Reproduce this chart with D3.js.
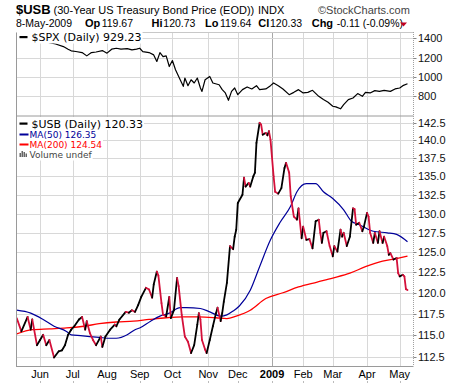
<!DOCTYPE html>
<html><head><meta charset="utf-8">
<script src="https://cdn.jsdelivr.net/npm/d3@7"></script>
<style>body{margin:0;background:#fff}svg{display:block}</style>
</head><body><svg id="c" width="460" height="383"></svg>
<script>
// ---------- DATA ----------
const holidays = ["2008-05-26","2008-07-04","2008-09-01","2008-11-27","2008-12-25","2009-01-01","2009-01-19","2009-02-16","2009-04-10"];
const firstDay = "2008-05-09", lastDay = "2009-05-08";

const usbDates = ["2008-05-09","2008-05-14","2008-05-20","2008-05-22","2008-05-23","2008-05-29","2008-06-02","2008-06-04","2008-06-06","2008-06-10","2008-06-13","2008-06-18","2008-06-20","2008-06-24","2008-06-26","2008-06-30","2008-07-02","2008-07-08","2008-07-10","2008-07-14","2008-07-15","2008-07-17","2008-07-21","2008-07-23","2008-07-28","2008-07-29","2008-07-31","2008-08-05","2008-08-08","2008-08-11","2008-08-13","2008-08-19","2008-08-21","2008-08-25","2008-08-27","2008-08-29","2008-09-03","2008-09-08","2008-09-10","2008-09-12","2008-09-15","2008-09-17","2008-09-18","2008-09-22","2008-09-23","2008-09-25","2008-09-29","2008-09-30","2008-10-02","2008-10-06","2008-10-07","2008-10-09","2008-10-13","2008-10-15","2008-10-17","2008-10-21","2008-10-23","2008-10-24","2008-10-27","2008-10-28","2008-10-30","2008-10-31","2008-11-04","2008-11-06","2008-11-10","2008-11-11","2008-11-13","2008-11-14","2008-11-17","2008-11-19","2008-11-21","2008-11-25","2008-11-26","2008-11-28","2008-12-01","2008-12-04","2008-12-05","2008-12-08","2008-12-10","2008-12-11","2008-12-15","2008-12-16","2008-12-17","2008-12-19","2008-12-22","2008-12-23","2008-12-26","2008-12-29","2008-12-30","2008-12-31","2009-01-05","2009-01-06","2009-01-08","2009-01-12","2009-01-14","2009-01-15","2009-01-20","2009-01-21","2009-01-23","2009-01-27","2009-01-28","2009-01-30","2009-02-02","2009-02-04","2009-02-06","2009-02-10","2009-02-12","2009-02-17","2009-02-18","2009-02-19","2009-02-20","2009-02-24","2009-02-26","2009-03-02","2009-03-03","2009-03-05","2009-03-09","2009-03-10","2009-03-11","2009-03-13","2009-03-17","2009-03-19","2009-03-20","2009-03-23","2009-03-25","2009-03-27","2009-03-30","2009-04-01","2009-04-02","2009-04-03","2009-04-07","2009-04-08","2009-04-13","2009-04-14","2009-04-16","2009-04-17","2009-04-21","2009-04-22","2009-04-23","2009-04-27","2009-04-29","2009-04-30","2009-05-01","2009-05-05","2009-05-06","2009-05-07","2009-05-08"];
const usbClose = [116.96,115.4,117.1,115.6,116.8,113.8,114.4,115.0,113.8,114.4,112.4,113.1,113.2,113.8,115.0,115.6,116.0,116.8,117.1,115.6,116.6,115.2,114.4,113.8,114.8,113.6,114.8,115.6,116.2,116.0,116.8,117.7,117.6,117.9,117.7,118.5,119.5,120.6,120.4,119.4,121.0,122.6,122.1,118.75,117.35,117.15,119.5,116.96,117.9,121.8,120.8,117.35,114.8,114.2,112.9,113.8,116.2,117.55,116.8,114.4,113.3,112.9,114.4,116.0,117.55,118.2,116.6,117.55,118.9,121.2,125.8,125.4,127.0,127.9,131.4,132.5,134.8,133.6,134.1,133.6,135.0,135.5,139.65,142.5,142.25,140.8,141.06,140.7,141.3,140.1,135.0,132.9,132.65,133.4,136.15,136.85,135.5,132.3,129.6,129.2,130.7,126.8,128.3,126.6,126.7,125.5,129.0,129.2,127.5,126.2,127.5,127.7,125.8,124.5,125.8,125.1,127.9,127.0,127.5,125.8,127.0,130.7,130.6,128.55,128.8,127.7,128.3,130.1,129.6,127.5,126.2,127.5,126.2,127.7,126.2,127.0,125.8,124.7,124.9,124.1,124.3,122.4,122.0,122.2,122.0,120.44,120.33];

const ma50Dates = ["2008-05-09","2008-05-22","2008-06-04","2008-06-13","2008-06-25","2008-06-30","2008-07-09","2008-07-17","2008-07-25","2008-08-05","2008-08-11","2008-08-20","2008-08-27","2008-09-02","2008-09-11","2008-09-19","2008-09-29","2008-10-08","2008-10-14","2008-10-27","2008-11-04","2008-11-13","2008-11-19","2008-11-25","2008-12-02","2008-12-11","2008-12-19","2008-12-31","2009-01-09","2009-01-21","2009-01-27","2009-02-04","2009-02-12","2009-02-20","2009-03-02","2009-03-11","2009-03-18","2009-03-25","2009-04-07","2009-04-21","2009-04-29","2009-05-08"];
const ma50Values = [117.9,117.55,116.8,116.0,115.4,115.0,114.9,114.8,114.7,114.6,114.6,115.0,115.6,115.8,116.6,117.2,117.55,118.2,118.2,118.1,117.7,117.2,117.35,117.8,118.4,120.3,123.2,126.6,128.8,131.0,132.9,134.0,134.0,132.9,132.0,130.5,129.0,128.55,127.7,127.5,127.3,126.35];

const ma200Dates = ["2008-05-09","2008-05-23","2008-06-10","2008-06-25","2008-07-11","2008-07-25","2008-08-11","2008-08-26","2008-09-10","2008-09-25","2008-10-10","2008-10-24","2008-11-10","2008-11-19","2008-11-28","2008-12-11","2008-12-26","2009-01-13","2009-01-28","2009-02-13","2009-03-02","2009-03-17","2009-03-31","2009-04-16","2009-05-01","2009-05-08"];
const ma200Values = [115.1,115.6,115.7,115.8,116.0,116.3,116.5,116.6,116.8,117.0,117.1,117.1,117.0,116.9,117.2,117.9,119.3,120.0,120.7,121.3,121.8,122.4,123.2,123.9,124.3,124.54];

const spxDates = ["2008-05-09","2008-05-19","2008-05-30","2008-06-04","2008-06-06","2008-06-10","2008-06-16","2008-06-23","2008-06-26","2008-06-30","2008-07-03","2008-07-10","2008-07-15","2008-07-18","2008-07-23","2008-07-29","2008-08-01","2008-08-06","2008-08-11","2008-08-14","2008-08-20","2008-08-25","2008-08-28","2008-09-02","2008-09-04","2008-09-10","2008-09-15","2008-09-17","2008-09-19","2008-09-23","2008-09-25","2008-09-29","2008-10-01","2008-10-03","2008-10-08","2008-10-10","2008-10-13","2008-10-15","2008-10-17","2008-10-21","2008-10-23","2008-10-27","2008-10-28","2008-10-30","2008-11-04","2008-11-06","2008-11-12","2008-11-14","2008-11-18","2008-11-20","2008-11-24","2008-11-26","2008-12-01","2008-12-04","2008-12-09","2008-12-12","2008-12-17","2008-12-19","2008-12-26","2008-12-31","2009-01-05","2009-01-08","2009-01-13","2009-01-20","2009-01-23","2009-01-28","2009-02-02","2009-02-05","2009-02-10","2009-02-17","2009-02-20","2009-02-25","2009-03-02","2009-03-04","2009-03-09","2009-03-11","2009-03-16","2009-03-19","2009-03-24","2009-03-27","2009-03-31","2009-04-03","2009-04-08","2009-04-14","2009-04-17","2009-04-23","2009-04-28","2009-05-01","2009-05-05","2009-05-08"];
const spxClose = [1388,1426,1400,1378,1362,1355,1341,1314,1287,1270,1263,1252,1218,1252,1258,1273,1246,1287,1297,1288,1293,1280,1287,1297,1262,1252,1228,1160,1252,1211,1218,1108,1170,1074,971,903,989,910,971,938,989,886,851,971,1005,938,920,869,835,759,851,886,817,869,897,876,910,869,876,910,938,910,876,817,841,869,835,841,862,800,766,738,697,691,671,715,766,783,828,800,841,835,859,851,862,851,876,886,910,929.23];

const usbTicks = [112.5,115.0,117.5,120.0,122.5,125.0,127.5,130.0,132.5,135.0,137.5,140.0,142.5];
const spxTicks = [800,1000,1200,1400];

const headerTitle = "$USB", headerDesc = "(30-Year US Treasury Bond Price (EOD))", headerExch = "INDX";
const quoteDate = "8-May-2009";
const quoteLabels = ["Op","Hi","Lo","Cl","Chg"];
const quoteValues = ["119.67","120.73","119.64","120.33","-0.11 (-0.09%)"];

// ---------- LAYOUT ----------
const L = 16, R = 413.5, T1 = 32, B1 = 115.5, B2 = 366;
const svg = d3.select("#c");
const parse = d3.timeParse("%Y-%m-%d"), fmt = d3.timeFormat("%Y-%m-%d");
const days = d3.timeDay.range(parse(firstDay), d3.timeDay.offset(parse(lastDay), 1))
  .filter(d => d.getDay() !== 0 && d.getDay() !== 6 && !holidays.includes(fmt(d))).map(fmt);
const x = d3.scalePoint().domain(days).range([16.7, 407.5]);

const yUsb = d3.scaleLog().domain([111.43, 143.56]).range([B2, B1]);
const ySpx = d3.scaleLinear().domain([601.7, 1464.7]).range([B1, T1]);

const monthTicks = days.filter((d, i) => i > 0 && d.slice(5, 7) !== days[i - 1].slice(5, 7));

const grid = "#d8d8d8";
svg.append("rect").attr("width", 460).attr("height", 383).attr("fill", "#fff");

svg.append("g").selectAll("line").data(monthTicks).join("line")
  .attr("x1", d => Math.round(x(d)) + 0.5).attr("x2", d => Math.round(x(d)) + 0.5)
  .attr("y1", T1).attr("y2", B2)
  .attr("stroke", d => d.slice(5, 7) === "01" ? "#a8a8a8" : grid).attr("stroke-width", 1);

svg.append("g").selectAll("line").data(spxTicks).join("line")
  .attr("x1", L).attr("x2", R).attr("y1", d => Math.round(ySpx(d)) + 0.5).attr("y2", d => Math.round(ySpx(d)) + 0.5)
  .attr("stroke", grid);
svg.append("g").selectAll("line").data(usbTicks).join("line")
  .attr("x1", L).attr("x2", R).attr("y1", d => Math.round(yUsb(d)) + 0.5).attr("y2", d => Math.round(yUsb(d)) + 0.5)
  .attr("stroke", grid);

const defs = svg.append("defs");
defs.append("clipPath").attr("id", "cp1").append("rect").attr("x", L).attr("y", T1).attr("width", R - L).attr("height", B1 - T1);
defs.append("clipPath").attr("id", "cp2").append("rect").attr("x", L).attr("y", B1).attr("width", R - L).attr("height", B2 - B1);

const spx = spxDates.map((d, i) => ({ d, v: spxClose[i] }));
svg.append("path").attr("clip-path", "url(#cp1)")
  .attr("d", d3.line().x(p => x(p.d)).y(p => ySpx(p.v))(spx))
  .attr("fill", "none").attr("stroke", "#000").attr("stroke-width", 1.2).attr("stroke-linejoin", "round");

const g2 = svg.append("g").attr("clip-path", "url(#cp2)");
const ma200 = ma200Dates.map((d, i) => ({ d, v: ma200Values[i] }));
const ma50 = ma50Dates.map((d, i) => ({ d, v: ma50Values[i] }));
const lineU = d3.line().x(p => x(p.d)).y(p => yUsb(p.v)).curve(d3.curveMonotoneX);
g2.append("path").attr("d", lineU(ma200)).attr("fill", "none").attr("stroke", "#ff0000").attr("stroke-width", 1.3);
g2.append("path").attr("d", lineU(ma50)).attr("fill", "none").attr("stroke", "#000099").attr("stroke-width", 1.2);

const usb = usbDates.map((d, i) => ({ d, v: usbClose[i] }));
const segs = usb.slice(1).map((p, i) => ({ a: usb[i], b: p, up: p.v >= usb[i].v }));
g2.selectAll("line.seg").data(segs).join("line").attr("class", "seg")
  .attr("x1", s => x(s.a.d)).attr("y1", s => yUsb(s.a.v)).attr("x2", s => x(s.b.d)).attr("y2", s => yUsb(s.b.v))
  .attr("stroke", s => s.up ? "#000" : "#d4103a").attr("stroke-width", 1.8).attr("stroke-linecap", "round");

const border = "#9a9a9a";
svg.append("line").attr("x1", L + 0.5).attr("x2", L + 0.5).attr("y1", T1).attr("y2", B2 + 0.5).attr("stroke", border);
svg.append("line").attr("x1", L).attr("x2", R).attr("y1", T1 + 0.5).attr("y2", T1 + 0.5).attr("stroke", "#c8c8c8");
svg.append("line").attr("x1", L).attr("x2", R).attr("y1", B1 + 0.5).attr("y2", B1 + 0.5).attr("stroke", border);
svg.append("line").attr("x1", L).attr("x2", R).attr("y1", B2 + 0.5).attr("y2", B2 + 0.5).attr("stroke", border);
svg.append("line").attr("x1", R).attr("x2", R).attr("y1", T1).attr("y2", B2)
  .attr("stroke", "#a0a0a0").attr("stroke-dasharray", "1,1");

const axFont = "'Liberation Sans', Arial, sans-serif";
function rightAxis(scale, ticks, f) {
  const g = svg.append("g");
  g.selectAll("line").data(ticks).join("line")
    .attr("x1", R).attr("x2", R + 3).attr("y1", d => Math.round(scale(d)) + 0.5).attr("y2", d => Math.round(scale(d)) + 0.5)
    .attr("stroke", "#888");
  g.selectAll("text").data(ticks).join("text")
    .attr("x", R + 4.5).attr("y", d => scale(d) + 4).text(f)
    .attr("font-family", axFont).attr("font-size", 11).attr("fill", "#111");
}
rightAxis(ySpx, spxTicks, d3.format("d"));
rightAxis(yUsb, usbTicks, d3.format(".1f"));

svg.append("g").selectAll("text").data(monthTicks).join("text")
  .attr("x", d => x(d)).attr("y", 377.5).attr("text-anchor", "middle")
  .attr("font-family", axFont).attr("font-size", 11)
  .attr("font-weight", d => d.slice(5, 7) === "01" ? "bold" : "normal")
  .text(d => d.slice(5, 7) === "01" ? d.slice(0, 4) : d3.timeFormat("%b")(parse(d)));
svg.append("g").selectAll("line").data(monthTicks).join("line")
  .attr("x1", d => Math.round(x(d)) + 0.5).attr("x2", d => Math.round(x(d)) + 0.5)
  .attr("y1", 381).attr("y2", 383).attr("stroke", "#bbb");

const lgFont = "'DejaVu Sans', Verdana, sans-serif";
function legendLine(y, text, color, size, marker) {
  const g = svg.append("g");
  const bg = g.append("rect").attr("fill", "#fff");
  const tx = marker === "big" ? 31.5 : 29.5;
  const t = g.append("text").attr("x", tx).attr("y", y)
    .attr("font-family", lgFont).attr("font-size", size).attr("fill", color).text(text);
  const w = t.node().getComputedTextLength() + tx - L;
  bg.attr("x", L + 1).attr("y", y - size + 0.5).attr("width", w).attr("height", size + 2);
  if (marker === "big") g.append("rect").attr("x", 19.5).attr("y", y - 5).attr("width", 8).attr("height", 2.2).attr("fill", color);
  else if (marker === "line") g.append("rect").attr("x", 19.5).attr("y", y - 4.5).attr("width", 9).attr("height", 2).attr("fill", color);
  else {
    [[19.5, 4], [21.5, 6], [23.5, 5], [25.5, 3.5]].forEach(([bx, h]) =>
      g.append("rect").attr("x", bx).attr("y", y - h - 1).attr("width", 1.5).attr("height", h).attr("fill", "#666"));
  }
}
legendLine(41, "$SPX (Daily) 929.23", "#000", 11, "big");
legendLine(127.5, "$USB (Daily) 120.33", "#000", 11, "big");
legendLine(138, "MA(50) 126.35", "#000099", 9, "line");
legendLine(148, "MA(200) 124.54", "#ff0000", 9, "line");
legendLine(158, "Volume undef", "#444", 9, "vol");

const hf = "'Liberation Sans', Arial, sans-serif";
svg.append("text").attr("x", 16).attr("y", 14).attr("font-family", hf).attr("font-size", 13).attr("font-weight", "bold").text(headerTitle);
svg.append("text").attr("x", 53.5).attr("y", 14).attr("font-family", hf).attr("font-size", 11).text(headerDesc);
svg.append("text").attr("x", 258).attr("y", 14).attr("font-family", hf).attr("font-size", 11).text(headerExch);
svg.append("text").attr("x", 318).attr("y", 14).attr("font-family", hf).attr("font-size", 11).attr("fill", "#444").text("©StockCharts.com");
svg.append("text").attr("x", 16).attr("y", 27).attr("font-family", hf).attr("font-size", 10.5).text(quoteDate);
const labX = [85, 151.5, 205, 258.3, 311.7], valX = [101.7, 163.3, 220, 270, 336.7];
quoteLabels.forEach((l, i) => {
  svg.append("text").attr("x", labX[i]).attr("y", 27).attr("font-family", hf).attr("font-size", 11).attr("font-weight", "bold").text(l);
  svg.append("text").attr("x", valX[i]).attr("y", 27).attr("font-family", hf).attr("font-size", 10.5).text(quoteValues[i]);
});
svg.append("path").attr("d", "M400,22.5 L407,22.5 L403.5,26.5 Z").attr("fill", "#c00020");
</script>
</body></html>
